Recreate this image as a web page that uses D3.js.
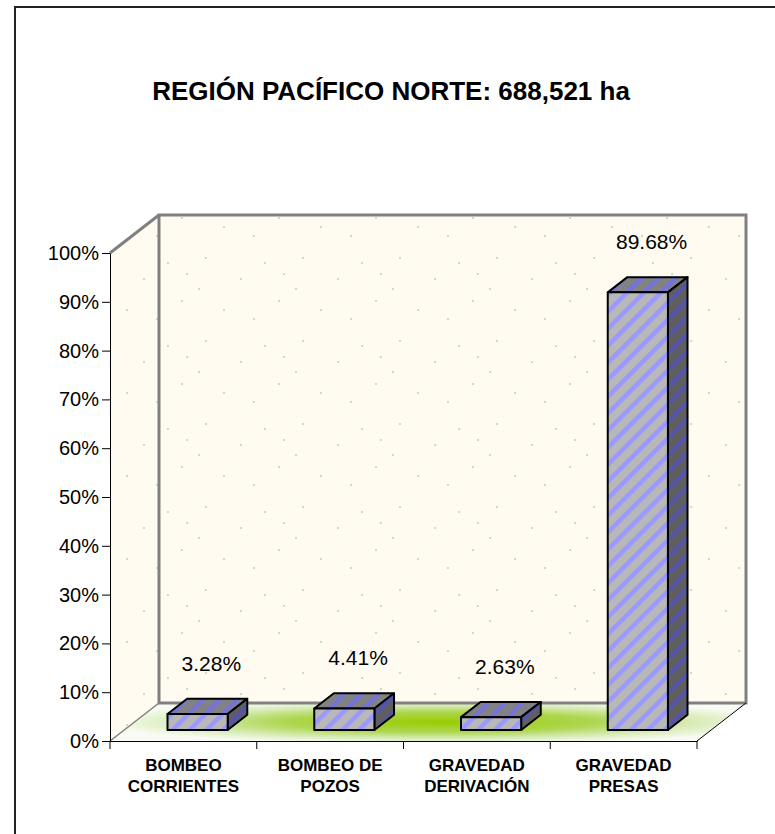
<!DOCTYPE html>
<html>
<head>
<meta charset="utf-8">
<script src="https://cdn.jsdelivr.net/npm/d3@7"></script>
<style>
body { margin: 0; background: #fff; }
text { font-family: Arial, "Liberation Sans", sans-serif; }
</style>
</head>
<body>
<script>
const svgWidth = 775
const svgHeight = 834

const title = "REGIÓN PACÍFICO NORTE: 688,521 ha"
const categories = ["BOMBEO CORRIENTES", "BOMBEO DE POZOS", "GRAVEDAD DERIVACIÓN", "GRAVEDAD PRESAS"]
const catLines = [["BOMBEO", "CORRIENTES"], ["BOMBEO DE", "POZOS"], ["GRAVEDAD", "DERIVACIÓN"], ["GRAVEDAD", "PRESAS"]]
const values = [3.28, 4.41, 2.63, 89.68]
const yTicks = [0, 10, 20, 30, 40, 50, 60, 70, 80, 90, 100]

const plot = { left: 110, right: 697, top: 253, bottom: 741 }
const depth = { dx: 49, dy: -38 }
const barFront = 0.29
const barBack = 0.69

const svg = d3.select("body").append("svg")
    .attr("width", svgWidth)
    .attr("height", svgHeight)

const x = d3.scaleBand()
    .domain(categories)
    .range([plot.left, plot.right])

const y = d3.scaleLinear()
    .domain([0, 100])
    .range([plot.bottom, plot.top])

const defs = svg.append("defs")

// striped fills for the bar faces
function stripes(id, base, stripe) {
    const p = defs.append("pattern")
        .attr("id", id)
        .attr("patternUnits", "userSpaceOnUse")
        .attr("width", 12)
        .attr("height", 12)
        .attr("patternTransform", "rotate(45)")
    p.append("rect").attr("width", 12).attr("height", 12).attr("fill", base)
    p.append("rect").attr("width", 4.5).attr("height", 12).attr("fill", stripe)
}
stripes("front", "#B8B8B8", "#9999FF")
stripes("top", "#828282", "#7474D6")
stripes("side", "#5F5F5F", "#5555A8")

// speckled wall
const dots = defs.append("pattern")
    .attr("id", "wall")
    .attr("patternUnits", "userSpaceOnUse")
    .attr("width", 97)
    .attr("height", 83)
dots.append("rect").attr("width", 97).attr("height", 83).attr("fill", "#FFFBF0")
;[[12, 9], [47, 30], [71, 14], [30, 61], [85, 52], [60, 70], [5, 40], [90, 25]].forEach(d => {
    dots.append("circle").attr("cx", d[0]).attr("cy", d[1]).attr("r", 1).attr("fill", "#B2D6BE")
})

const floorGrad = defs.append("radialGradient")
    .attr("id", "floor")
    .attr("gradientUnits", "userSpaceOnUse")
    .attr("cx", 440).attr("cy", 722).attr("r", 340)
    .attr("gradientTransform", "translate(440,722) scale(1,0.065) translate(-440,-722)")
floorGrad.append("stop").attr("offset", "0%").attr("stop-color", "#99CC00")
floorGrad.append("stop").attr("offset", "45%").attr("stop-color", "#AED650")
floorGrad.append("stop").attr("offset", "75%").attr("stop-color", "#D8ECB8")
floorGrad.append("stop").attr("offset", "100%").attr("stop-color", "#F8FBF3")

const pt = (px, py, f) => [px + depth.dx * f, py + depth.dy * f]
const poly = pts => pts.map(p => p.join(",")).join(" ")

// floor
const floorPts = poly([[plot.left, plot.bottom], [plot.right, plot.bottom], pt(plot.right, plot.bottom, 1), pt(plot.left, plot.bottom, 1)])
svg.append("polygon").attr("points", floorPts).attr("fill", "#F8FBF3")
svg.append("polygon").attr("points", floorPts).attr("fill", "url(#floor)")

// side wall and back wall
svg.append("polygon")
    .attr("points", poly([[plot.left, plot.top], pt(plot.left, plot.top, 1), pt(plot.left, plot.bottom, 1), [plot.left, plot.bottom]]))
    .attr("fill", "url(#wall)")
svg.append("rect")
    .attr("x", plot.left + depth.dx)
    .attr("y", plot.top + depth.dy)
    .attr("width", plot.right - plot.left)
    .attr("height", plot.bottom - plot.top)
    .attr("fill", "url(#wall)")
    .attr("stroke", "#808080")
    .attr("stroke-width", 3)

svg.append("path")
    .attr("d", `M${plot.left},${plot.top}L${pt(plot.left, plot.top, 1)}`)
    .attr("stroke", "#808080").attr("stroke-width", 3)
svg.append("path")
    .attr("d", `M${plot.left},${plot.bottom}L${pt(plot.left, plot.bottom, 1)}`)
    .attr("stroke", "#808080").attr("stroke-width", 1.5)
svg.append("path")
    .attr("d", `M${plot.right},${plot.bottom}L${pt(plot.right, plot.bottom, 1)}`)
    .attr("stroke", "#000").attr("stroke-width", 1)

// bars
const barW = x.bandwidth() * 0.41
const bars = svg.append("g")
    .selectAll("g")
    .data(values)
    .join("g")

bars.each(function (v, i) {
    const g = d3.select(this)
    const x0 = x(categories[i]) + (x.bandwidth() - barW) / 2
    const x1 = x0 + barW
    const [fx0, fyb] = pt(x0, y(0), barFront)
    const [fx1, fyt] = pt(x1, y(v), barFront)
    const d = barBack - barFront
    const off = [depth.dx * d, depth.dy * d]
    g.append("polygon")
        .attr("points", poly([[fx0, fyt], [fx1, fyt], [fx1 + off[0], fyt + off[1]], [fx0 + off[0], fyt + off[1]]]))
        .attr("fill", "url(#top)")
    g.append("polygon")
        .attr("points", poly([[fx1, fyt], [fx1 + off[0], fyt + off[1]], [fx1 + off[0], fyb + off[1]], [fx1, fyb]]))
        .attr("fill", "url(#side)")
    g.append("rect")
        .attr("x", fx0).attr("y", fyt)
        .attr("width", fx1 - fx0).attr("height", fyb - fyt)
        .attr("fill", "url(#front)")
    g.selectAll("polygon, rect")
        .attr("stroke", "#000")
        .attr("stroke-width", 2)
        .attr("stroke-linejoin", "round")

    g.append("text")
        .attr("x", x(categories[i]) + x.bandwidth() / 2 + 28)
        .attr("y", fyt + off[1] - 28)
        .attr("text-anchor", "middle")
        .attr("font-size", 21)
        .text(v.toFixed(2) + "%")
})

// y axis
const yAxis = d3.axisLeft(y)
    .tickValues(yTicks)
    .tickFormat(d => d + "%")
    .tickSize(8)
    .tickPadding(3)
    .tickSizeOuter(0)
const yG = svg.append("g")
    .attr("transform", `translate(${plot.left},0)`)
    .call(yAxis)
yG.selectAll("text").attr("font-size", 20).attr("fill", "#000")
    .attr("font-family", "Arial, 'Liberation Sans', sans-serif")
yG.selectAll("line, path").attr("stroke", "#000")

// x axis
const xAxis = d3.axisBottom(x)
    .tickSize(8)
    .tickSizeOuter(0)
    .tickFormat("")
const xG = svg.append("g")
    .attr("transform", `translate(0,${plot.bottom})`)
    .call(xAxis)
xG.selectAll(".tick line").attr("transform", `translate(${-x.bandwidth() / 2},0)`)
xG.append("line")
    .attr("x1", plot.right).attr("x2", plot.right)
    .attr("y1", 0).attr("y2", 8)
    .attr("stroke", "#000")
xG.selectAll("line, path").attr("stroke", "#000")

const catLabels = svg.append("g")
    .selectAll("text")
    .data(categories)
    .join("text")
    .attr("x", d => x(d) + x.bandwidth() / 2)
    .attr("y", 771)
    .attr("text-anchor", "middle")
    .attr("font-size", 17)
    .attr("font-weight", "bold")
catLabels.each(function (d, i) {
    d3.select(this).selectAll("tspan")
        .data(catLines[i])
        .join("tspan")
        .attr("x", x(d) + x.bandwidth() / 2)
        .attr("dy", (t, j) => j === 0 ? 0 : 21)
        .text(t => t)
})

// title
svg.append("text")
    .attr("x", 391)
    .attr("y", 100)
    .attr("text-anchor", "middle")
    .attr("font-size", 26)
    .attr("font-weight", "bold")
    .text(title)

// outer frame
svg.append("path")
    .attr("d", `M15,${svgHeight}V7H${svgWidth}`)
    .attr("fill", "none")
    .attr("stroke", "#222")
    .attr("stroke-width", 2)
</script>
</body>
</html>
